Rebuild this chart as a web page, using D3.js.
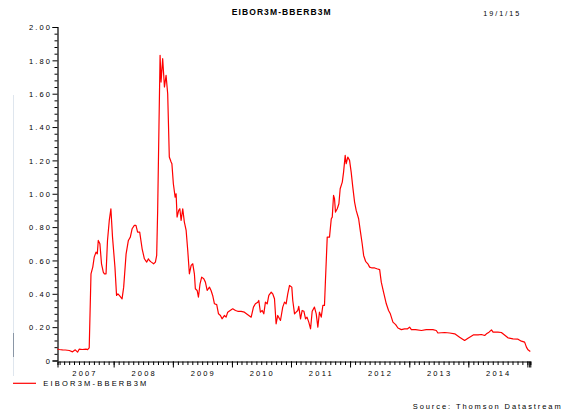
<!DOCTYPE html>
<html><head><meta charset="utf-8">
<script src="https://cdn.jsdelivr.net/npm/d3@7"></script>
<style>
html,body{margin:0;padding:0;background:#fff;}
svg{display:block;}
text{font-family:"Liberation Sans",Arial,sans-serif;fill:#000;}
</style></head>
<body>
<svg id="chart" width="561" height="412"></svg>
<script>
// ---------- data ----------
const seriesName = "EIBOR3M-BBERB3M";
const chartTitle = "EIBOR3M-BBERB3M";
const chartDate = "19/1/15";
const sourceText = "Source: Thomson Datastream";
const yTickValues = [0, 0.2, 0.4, 0.6, 0.8, 1.0, 1.2, 1.4, 1.6, 1.8, 2.0];
const yTickLabels = ["0","0.20","0.40","0.60","0.80","1.00","1.20","1.40","1.60","1.80","2.00"];
const yearLabels = ["2007","2008","2009","2010","2011","2012","2013","2014"];

const dates = [
"2007-01-19","2007-01-30","2007-02-19","2007-03-08","2007-04-02","2007-04-22","2007-05-09","2007-05-23","2007-06-02","2007-06-21",
"2007-07-14","2007-07-24","2007-08-03","2007-08-14","2007-08-25","2007-09-03","2007-09-14","2007-09-22","2007-09-28","2007-10-08",
"2007-10-18","2007-10-29","2007-11-04","2007-11-15","2007-11-24","2007-12-05","2007-12-15","2007-12-25","2008-01-09","2008-01-19",
"2008-01-27","2008-02-05","2008-02-22","2008-03-03","2008-03-18","2008-04-01","2008-04-13","2008-04-24","2008-05-08","2008-05-18",
"2008-05-28","2008-06-10","2008-06-25","2008-07-09","2008-07-23","2008-08-03","2008-08-09","2008-08-21","2008-09-04","2008-09-15",
"2008-09-23","2008-09-29","2008-10-07","2008-10-14","2008-10-20","2008-10-30","2008-11-10","2008-11-20","2008-11-30","2008-12-10",
"2008-12-21","2008-12-26","2009-01-04","2009-01-15","2009-01-21","2009-01-27","2009-02-06","2009-02-13","2009-02-21","2009-03-03",
"2009-03-13","2009-03-24","2009-04-03","2009-04-13","2009-04-24","2009-05-04","2009-05-14","2009-05-20","2009-05-31","2009-06-08",
"2009-06-18","2009-06-28","2009-07-11","2009-07-21","2009-08-01","2009-08-15","2009-08-25","2009-09-04","2009-09-15","2009-09-29",
"2009-10-10","2009-10-22","2009-11-01","2009-11-16","2009-11-26","2009-12-06","2009-12-21","2010-01-06","2010-01-23","2010-02-06",
"2010-02-27","2010-03-19","2010-04-09","2010-04-30","2010-05-14","2010-05-26","2010-06-10","2010-06-16","2010-06-26","2010-07-07",
"2010-07-17","2010-07-27","2010-08-07","2010-08-17","2010-09-01","2010-09-10","2010-09-21","2010-10-01","2010-10-11","2010-10-22",
"2010-10-28","2010-11-11","2010-11-22","2010-12-02","2010-12-12","2010-12-23","2011-01-06","2011-01-12","2011-01-23","2011-02-02",
"2011-02-12","2011-02-18","2011-03-01","2011-03-11","2011-03-22","2011-04-01","2011-04-10","2011-04-21","2011-05-02","2011-05-12",
"2011-05-26","2011-06-06","2011-06-16","2011-06-26","2011-07-07","2011-07-17","2011-07-27","2011-08-02","2011-08-13","2011-08-27",
"2011-09-07","2011-09-13","2011-09-21","2011-09-27","2011-10-03","2011-10-14","2011-10-24","2011-11-01","2011-11-14","2011-11-22",
"2011-12-02","2011-12-08","2011-12-18","2011-12-29","2012-01-08","2012-01-18","2012-01-29","2012-02-08","2012-02-23","2012-03-04",
"2012-03-16","2012-03-25","2012-04-06","2012-04-20","2012-05-01","2012-05-16","2012-06-01","2012-06-15","2012-07-02","2012-07-12",
"2012-07-26","2012-08-12","2012-08-26","2012-09-06","2012-09-22","2012-10-09","2012-10-23","2012-11-13","2012-12-03","2012-12-22",
"2013-01-03","2013-01-14","2013-02-09","2013-03-17","2013-04-16","2013-05-27","2013-06-17","2013-06-27","2013-08-08","2013-09-08",
"2013-10-09","2013-11-08","2013-12-09","2013-12-30","2014-01-09","2014-02-03","2014-03-02","2014-03-23","2014-04-12","2014-04-23",
"2014-05-09","2014-05-24","2014-06-03","2014-07-03","2014-07-24","2014-08-03","2014-09-03","2014-10-04","2014-11-04","2014-11-25",
"2014-12-15","2014-12-26","2015-01-05","2015-01-19"
];
const values = [
0.068,0.066,0.064,0.063,0.060,0.052,0.064,0.050,0.068,0.066,
0.068,0.065,0.076,0.52,0.56,0.62,0.65,0.64,0.72,0.70,
0.58,0.53,0.52,0.52,0.72,0.84,0.91,0.74,0.56,0.39,
0.40,0.39,0.37,0.44,0.64,0.72,0.74,0.79,0.81,0.81,
0.77,0.77,0.67,0.61,0.59,0.61,0.60,0.59,0.58,0.59,
0.63,0.90,1.40,1.83,1.67,1.81,1.64,1.71,1.60,1.22,
1.19,1.18,1.06,0.98,1.00,0.86,0.90,0.91,0.84,0.91,
0.83,0.78,0.66,0.52,0.57,0.58,0.52,0.43,0.42,0.38,
0.46,0.50,0.49,0.47,0.42,0.44,0.42,0.39,0.34,0.335,
0.28,0.27,0.25,0.27,0.26,0.29,0.30,0.31,0.30,0.295,
0.295,0.29,0.275,0.26,0.32,0.34,0.35,0.36,0.29,0.30,
0.28,0.35,0.34,0.39,0.41,0.40,0.37,0.22,0.27,0.25,
0.24,0.32,0.35,0.34,0.40,0.45,0.44,0.36,0.28,0.29,
0.30,0.325,0.25,0.30,0.295,0.25,0.26,0.23,0.19,0.295,
0.32,0.28,0.20,0.29,0.26,0.33,0.33,0.48,0.74,0.74,
0.85,0.86,0.99,0.97,0.89,0.91,0.94,1.03,1.07,1.13,
1.23,1.18,1.22,1.20,1.13,1.04,0.95,0.90,0.85,0.78,
0.70,0.63,0.595,0.58,0.56,0.555,0.555,0.55,0.545,0.47,
0.41,0.34,0.30,0.28,0.23,0.215,0.195,0.185,0.19,0.19,
0.20,0.185,0.185,0.18,0.185,0.185,0.18,0.165,0.168,0.165,
0.16,0.14,0.12,0.134,0.14,0.154,0.154,0.156,0.15,0.16,
0.17,0.184,0.17,0.17,0.168,0.16,0.136,0.13,0.128,0.116,
0.11,0.08,0.064,0.054
];

// ---------- chart ----------
const parse = d3.timeParse("%Y-%m-%d");
const data = dates.map((d, i) => ({date: parse(d), value: values[i]}));
const svg = d3.select("#chart");

const x = d3.scaleTime()
  .domain([parse("2007-01-19"), parse("2015-01-19")])
  .range([57.5, 530.3]);
const y = d3.scaleLinear().domain([0, 2]).range([360.5, 27]);

// faint scan artefacts at left edge
svg.append("line").attr("x1",13.5).attr("x2",13.5).attr("y1",95).attr("y2",376)
  .attr("stroke","#dfe6ee").attr("stroke-width",1);
svg.append("line").attr("x1",13.5).attr("x2",13.5).attr("y1",333).attr("y2",357)
  .attr("stroke","#8a96a6").attr("stroke-width",1);

const font = "Liberation Sans, Arial, sans-serif";

// y axis (major)
const yMajor = svg.append("g").attr("transform","translate(57.5,0)")
  .call(d3.axisLeft(y).tickValues(yTickValues).tickSize(5).tickFormat((d,i)=>yTickLabels[i]));
// y axis (minor)
const minorVals = d3.range(0, 2.0001, 0.04).filter(v => Math.abs(v/0.2 - Math.round(v/0.2)) > 1e-6);
svg.append("g").attr("transform","translate(57.5,0)")
  .call(d3.axisLeft(y).tickValues(minorVals).tickSize(3).tickFormat(""))
  .call(g => g.select(".domain").remove());

// x axis minor (months)
const xAxisY = 361.5;
svg.append("g").attr("transform",`translate(0,${xAxisY})`)
  .call(d3.axisBottom(x).ticks(d3.timeMonth.every(1)).tickSize(3.5).tickFormat(""));
// x axis major (years)
const yearStarts = d3.timeYear.range(parse("2008-01-01"), parse("2015-01-02"));
svg.append("g").attr("transform",`translate(0,${xAxisY})`)
  .call(d3.axisBottom(x).tickValues(yearStarts.concat([parse("2007-01-19")])).tickSize(6).tickFormat(""))
  .call(g => g.select(".domain").remove());
// end double tick
svg.append("g").attr("transform",`translate(0,${xAxisY})`)
  .call(d3.axisBottom(x).tickValues([parse("2015-01-12"), parse("2015-01-19")]).tickSize(6).tickFormat(""))
  .call(g => g.select(".domain").remove());

svg.selectAll(".domain").attr("stroke","#000").attr("stroke-width",1.2);
svg.selectAll(".tick line").attr("stroke","#000").attr("stroke-width",1);

// y labels
yMajor.selectAll(".tick text")
  .attr("x", -7.5).attr("dy", null).attr("y", 2.8)
  .attr("font-family", font).attr("font-size", 7.5).attr("fill","#000")
  .each(function(d,i){ if (yTickLabels[i].length > 1) d3.select(this).attr("textLength", 21).attr("lengthAdjust","spacing"); });

// year labels centered in each year
svg.append("g").selectAll("text").data(yearLabels).join("text")
  .attr("x", d => x(new Date(+d, 6, 1)))
  .attr("y", 375.5)
  .attr("text-anchor","middle")
  .attr("font-family", font).attr("font-size", 7.5)
  .attr("textLength", 23).attr("lengthAdjust","spacing")
  .text(d => d);

// series line
svg.append("path").datum(data)
  .attr("fill","none").attr("stroke","#ff0000").attr("stroke-width",1.2)
  .attr("stroke-linejoin","round")
  .attr("d", d3.line().x(d => x(d.date)).y(d => y(d.value)));

// title & date
svg.append("text").attr("x",231.7).attr("y",14.8)
  .attr("font-family", font).attr("font-size",8.5).attr("font-weight","bold")
  .attr("textLength",99).attr("lengthAdjust","spacing").text(chartTitle);
svg.append("text").attr("x",483.3).attr("y",16.2)
  .attr("font-family", font).attr("font-size",7.2)
  .attr("textLength",36).attr("lengthAdjust","spacing").text(chartDate);

// legend
svg.append("line").attr("x1",13).attr("x2",36).attr("y1",383.3).attr("y2",383.3)
  .attr("stroke","#ff0000").attr("stroke-width",1.2);
svg.append("text").attr("x",43.3).attr("y",385.6)
  .attr("font-family", font).attr("font-size",7.5)
  .attr("textLength",103).attr("lengthAdjust","spacing").text(seriesName);

// source
svg.append("text").attr("x",412.7).attr("y",409.4)
  .attr("font-family", font).attr("font-size",7.5)
  .attr("textLength",148).attr("lengthAdjust","spacing").text(sourceText);
</script>
</body></html>
